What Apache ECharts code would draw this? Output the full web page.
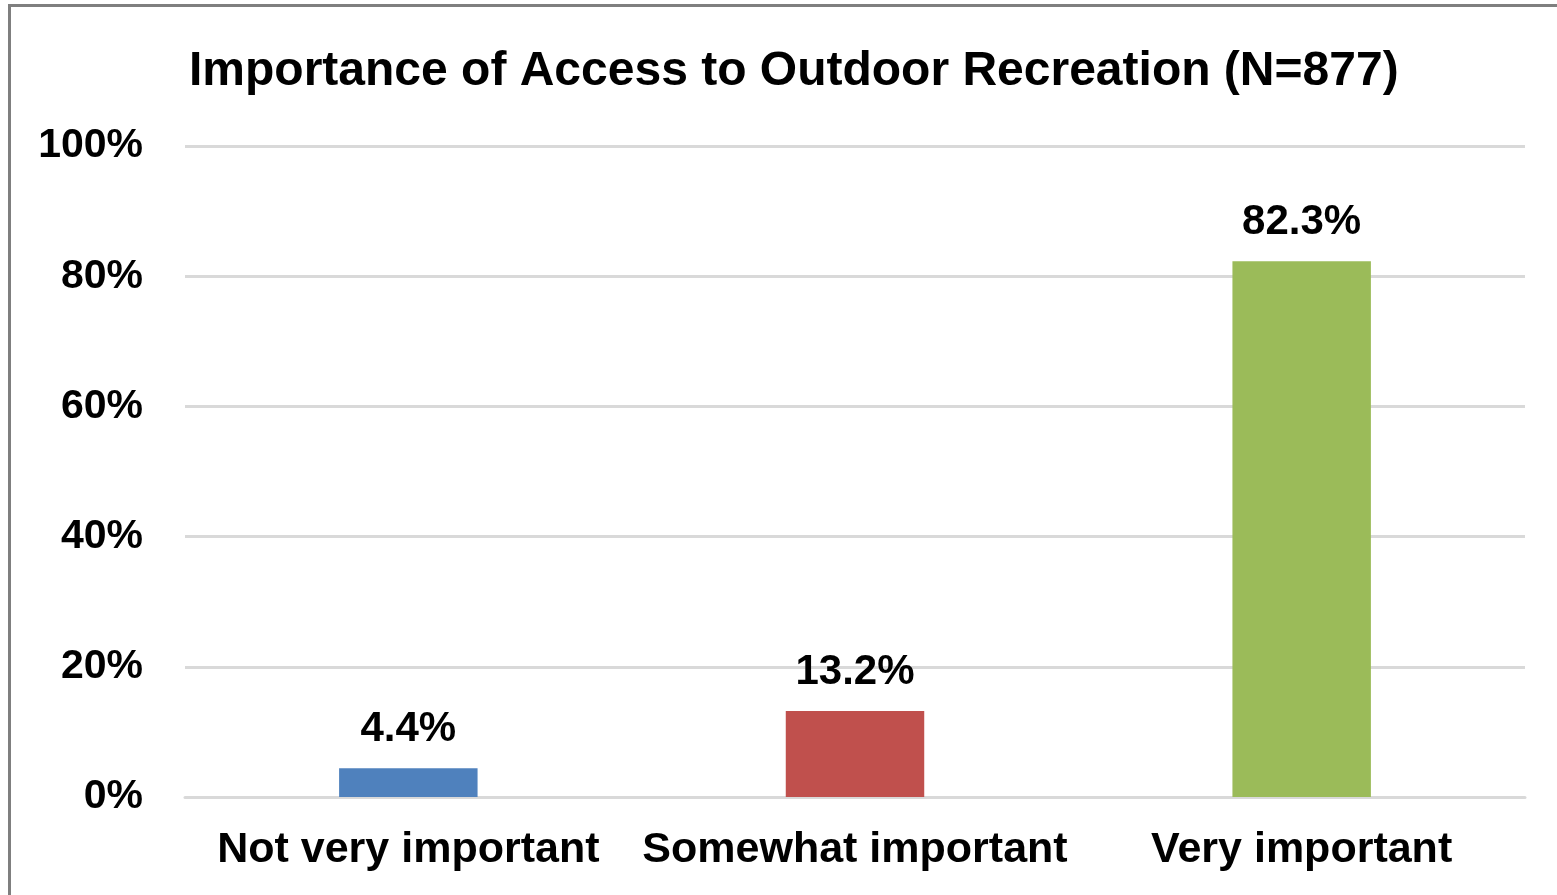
<!DOCTYPE html>
<html><head><meta charset="utf-8">
<script src="https://cdn.jsdelivr.net/npm/echarts@6/dist/echarts.min.js"></script>
<style>
html,body{margin:0;padding:0;background:#fff;}
#frame{position:absolute;left:8px;top:4px;width:1600px;height:950px;border-left:3px solid #7f7f7f;border-top:3px solid #7f7f7f;}
#c{position:absolute;left:0;top:0;width:1557px;height:895px;}
</style></head>
<body>
<div id="frame"></div>
<div id="c"></div>
<script>
const categories = ["Not very important", "Somewhat important", "Very important"];
const values = [4.4, 13.2, 82.3];
const colors = ["#4f81bd", "#c0504d", "#9bbb59"];
const titleText = "Importance of Access to Outdoor Recreation (N=877)";

const chart = echarts.init(document.getElementById('c'), null, {renderer:'canvas'});
const font = "'Liberation Sans', Arial, sans-serif";
chart.setOption({
  backgroundColor: 'transparent',
  animation: false,
  title: {
    text: titleText, left: 184, top: 43,
    textStyle: {fontFamily: font, fontSize: 48, fontWeight: 'bold', color: '#000'}
  },
  grid: {left: 185, right: 32, top: 146, bottom: 98, containLabel: false},
  xAxis: {
    type: 'category', data: categories,
    axisLine: {show: true, lineStyle: {color: '#d9d9d9', width: 3}},
    axisTick: {show: false},
    axisLabel: {fontFamily: font, fontSize: 43, fontWeight: 'bold', color: '#000', margin: 32, interval: 0}
  },
  yAxis: {
    type: 'value', min: 0, max: 100, interval: 20,
    axisLine: {show: false}, axisTick: {show: false},
    axisLabel: {formatter: '{value}%', fontFamily: font, fontSize: 41, fontWeight: 'bold', color: '#000', margin: 42, padding: [8, 0, 0, 0]},
    splitLine: {lineStyle: {color: '#d9d9d9', width: 3}}
  },
  series: [{
    type: 'bar', barWidth: '31%',
    data: values.map((v, i) => ({value: v, itemStyle: {color: colors[i]}})),
    label: {show: true, position: 'top', distance: 18, formatter: p => p.value.toFixed(1) + '%',
      fontFamily: font, fontSize: 42, fontWeight: 'bold', color: '#000'}
  }]
});
</script>
</body></html>
